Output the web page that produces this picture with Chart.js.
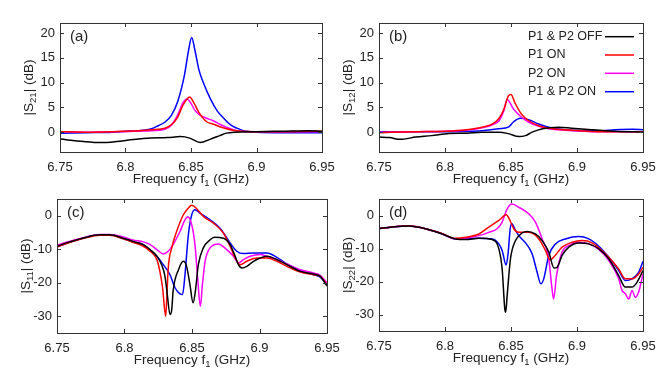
<!DOCTYPE html>
<html><head><meta charset="utf-8">
<script src="https://cdn.jsdelivr.net/npm/chart.js@4"></script>
<style>
html,body{margin:0;padding:0;background:#fff}
#wrap{position:relative;width:664px;height:374px;background:#fff}
canvas{position:absolute;left:0;top:0}
</style></head><body>
<div id="wrap">
<canvas id="ca" width="664" height="374"></canvas>
<canvas id="cb" width="664" height="374"></canvas>
<canvas id="cc" width="664" height="374"></canvas>
<canvas id="cd" width="664" height="374"></canvas>
</div>
<script>
// ---- data ----
const seriesNames = ["P1 & P2 OFF", "P1 ON", "P2 ON", "P1 & P2 ON"];
const xTicks = [6.75, 6.8, 6.85, 6.9, 6.95];
const xTickLabels = ["6.75", "6.8", "6.85", "6.9", "6.95"];
const yTicksTop = [0, 5, 10, 15, 20];
const yTickLabelsTop = ["0", "5", "10", "15", "20"];
const yTicksBottom = [-30, -20, -10, 0];
const yTickLabelsBottom = ["-30", "-20", "-10", "0"];

// (a) |S21|
const s21_off = [[6.75,-1.4],[6.768,-1.9],[6.781,-2.1],[6.793,-1.9],[6.806,-1.5],[6.819,-1.2],[6.832,-1.1],[6.842,-0.9],[6.849,-1.2],[6.857,-2.1],[6.865,-1.4],[6.872,-0.7],[6.877,-0.2],[6.883,0.0],[6.9,0.1],[6.92,0.2],[6.94,0.3],[6.95,0.2]];
const s21_p1 = [[6.75,0.1],[6.77,0.0],[6.79,0.1],[6.80,0.2],[6.81,0.3],[6.82,0.5],[6.83,0.8],[6.835,1.5],[6.84,3.1],[6.844,5.5],[6.849,7.1],[6.852,6.0],[6.856,4.0],[6.862,2.1],[6.867,1.6],[6.872,1.1],[6.877,0.7],[6.882,0.4],[6.888,0.2],[6.9,0.1],[6.92,0.1],[6.95,0.2]];
const s21_p2 = [[6.75,0.1],[6.77,0.0],[6.79,0.1],[6.80,0.1],[6.81,0.2],[6.82,0.3],[6.83,0.6],[6.835,1.4],[6.84,3.6],[6.844,6.0],[6.847,6.7],[6.85,5.8],[6.853,4.4],[6.857,3.4],[6.862,2.8],[6.867,2.3],[6.872,1.6],[6.877,1.0],[6.882,0.5],[6.888,0.2],[6.9,0.1],[6.92,0.1],[6.95,0.1]];
const s21_on = [[6.75,-0.2],[6.77,-0.1],[6.79,0.0],[6.80,0.2],[6.81,0.3],[6.82,0.7],[6.825,1.3],[6.83,2.0],[6.835,3.4],[6.84,6.3],[6.845,11.5],[6.848,16.3],[6.8505,19.1],[6.853,16.5],[6.856,12.6],[6.86,9.6],[6.865,6.6],[6.87,4.3],[6.875,2.8],[6.88,1.5],[6.885,0.8],[6.89,0.3],[6.9,0.0],[6.92,-0.1],[6.94,-0.1],[6.95,-0.1]];

// (b) |S12|
const s12_off = [[6.75,-1.0],[6.758,-1.1],[6.766,-1.45],[6.778,-1.0],[6.79,-0.7],[6.803,-0.25],[6.816,-0.2],[6.828,0.0],[6.841,0.0],[6.848,-0.3],[6.856,-0.9],[6.861,-0.7],[6.866,0.0],[6.874,0.7],[6.886,1.0],[6.896,0.8],[6.911,0.5],[6.929,0.2],[6.95,0.0]];
const s12_p1 = [[6.75,-0.1],[6.78,0.1],[6.80,0.2],[6.816,0.5],[6.828,1.0],[6.836,1.65],[6.841,2.8],[6.8446,4.6],[6.848,7.3],[6.85,7.6],[6.853,5.9],[6.858,3.6],[6.8635,2.3],[6.871,1.3],[6.8786,0.8],[6.891,0.5],[6.916,0.1],[6.95,0.1]];
const s12_p2 = [[6.75,0.0],[6.78,0.1],[6.80,0.2],[6.816,0.4],[6.828,0.9],[6.836,1.5],[6.841,2.3],[6.8446,4.3],[6.847,6.6],[6.852,4.6],[6.858,3.0],[6.8635,2.0],[6.871,1.2],[6.8786,0.7],[6.891,0.4],[6.916,0.1],[6.95,0.1]];
const s12_on = [[6.75,0.1],[6.78,0.1],[6.80,0.1],[6.82,0.2],[6.828,0.3],[6.841,0.7],[6.848,1.0],[6.852,2.1],[6.857,2.8],[6.8635,2.5],[6.871,1.65],[6.8786,1.0],[6.891,0.5],[6.916,0.3],[6.929,0.5],[6.942,0.6],[6.95,0.5]];

// (c) |S11|
const s11_off = [[6.75,-9.1],[6.757,-8.1],[6.769,-6.7],[6.782,-5.7],[6.789,-5.7],[6.799,-6.7],[6.806,-7.6],[6.814,-8.6],[6.819,-10.1],[6.824,-12.1],[6.8275,-14.6],[6.83,-18.1],[6.8317,-23.5],[6.8337,-29.5],[6.835,-28],[6.836,-22.5],[6.84,-16.1],[6.8436,-13.6],[6.846,-15.1],[6.8485,-20.6],[6.8508,-26],[6.8525,-22.5],[6.8547,-14.6],[6.8584,-9.6],[6.8634,-7.2],[6.8665,-6.4],[6.8733,-6.7],[6.8782,-8.6],[6.882,-12.1],[6.8844,-14.6],[6.8869,-15.6],[6.8906,-15.1],[6.8955,-13.6],[6.9005,-12.6],[6.9054,-12.1],[6.9129,-13.1],[6.9203,-14.6],[6.9302,-16.6],[6.94,-17.4],[6.945,-18.1],[6.95,-21]];
const s11_p1 = [[6.75,-9.3],[6.757,-8.3],[6.769,-6.8],[6.782,-5.8],[6.789,-5.8],[6.799,-6.9],[6.806,-7.9],[6.814,-9.1],[6.819,-10.6],[6.824,-13.1],[6.8262,-16.6],[6.8282,-21.5],[6.8305,-30],[6.8312,-25.5],[6.8324,-15.6],[6.835,-9.6],[6.8386,-4.7],[6.8436,0.3],[6.8473,2.3],[6.8498,3.1],[6.8535,2.1],[6.8584,-0.2],[6.8658,-2.2],[6.8733,-5.2],[6.8782,-9.1],[6.882,-12.6],[6.8856,-14.6],[6.8906,-13.6],[6.898,-12.6],[6.9054,-12.6],[6.9129,-13.6],[6.9203,-15.1],[6.9302,-16.8],[6.94,-17.6],[6.945,-18.1],[6.95,-20.6]];
const s11_p2 = [[6.75,-8.8],[6.757,-7.9],[6.769,-6.6],[6.782,-5.6],[6.789,-5.6],[6.799,-6.3],[6.806,-7.2],[6.814,-7.8],[6.819,-8.6],[6.824,-10.1],[6.8287,-11.4],[6.8324,-10.6],[6.836,-8.6],[6.8411,-4.7],[6.8448,-1.2],[6.8468,-0.3],[6.8498,-2.7],[6.8522,-8.6],[6.8542,-18.6],[6.8562,-27],[6.8577,-20.6],[6.8597,-13.6],[6.8634,-9.6],[6.8695,-8.4],[6.8757,-10.1],[6.8807,-12.1],[6.8844,-14.1],[6.8881,-13.1],[6.8931,-12.1],[6.9005,-11.6],[6.9054,-12.1],[6.9129,-13.1],[6.9203,-14.4],[6.9302,-16.1],[6.94,-17.1],[6.945,-17.8],[6.95,-20]];
const s11_on = [[6.75,-9.3],[6.757,-8.2],[6.769,-6.7],[6.782,-5.7],[6.789,-5.7],[6.799,-6.8],[6.806,-7.8],[6.814,-8.6],[6.819,-10.4],[6.824,-12.1],[6.8287,-14.6],[6.8337,-17.6],[6.8374,-21.5],[6.8411,-23.3],[6.843,-23.5],[6.8448,-17.6],[6.8473,-5.7],[6.8498,0.3],[6.8522,1.8],[6.8559,0.8],[6.8634,-1.2],[6.8708,-3.7],[6.8782,-8.1],[6.8832,-10.6],[6.8881,-11.3],[6.8955,-11.1],[6.9054,-11.1],[6.9129,-12.4],[6.9203,-14.4],[6.9302,-16.4],[6.94,-17.6],[6.945,-18.3],[6.95,-20.6]];

// (d) |S22|
const s22_off = [[6.75,-4.0],[6.76,-3.5],[6.7727,-3.2],[6.7853,-4.0],[6.7979,-5.6],[6.808,-7.1],[6.8156,-7.3],[6.8257,-6.9],[6.8358,-7.3],[6.8408,-10.1],[6.8433,-16.2],[6.8453,-28.3],[6.846,-29.3],[6.8471,-24.2],[6.8496,-13.1],[6.8534,-7.6],[6.8585,-5.3],[6.862,-4.85],[6.8685,-5.6],[6.8736,-7.6],[6.8786,-11.1],[6.8826,-15.9],[6.8849,-15.7],[6.8887,-12.1],[6.8938,-9.6],[6.9013,-8.3],[6.9089,-8.6],[6.9165,-10.1],[6.924,-13.1],[6.9316,-18.2],[6.9366,-21.7],[6.9417,-21.7],[6.9455,-20.2],[6.95,-16.7]];
const s22_p1 = [[6.75,-4.0],[6.76,-3.5],[6.7727,-3.2],[6.7853,-4.0],[6.7979,-5.5],[6.808,-6.9],[6.8156,-6.6],[6.8257,-5.6],[6.8332,-3.5],[6.8408,-1.5],[6.8465,0.2],[6.8484,-0.8],[6.8521,-4.0],[6.8559,-5.1],[6.8635,-5.1],[6.8711,-7.1],[6.8761,-10.6],[6.8796,-13.4],[6.8824,-12.6],[6.8887,-9.6],[6.8963,-8.1],[6.9038,-7.6],[6.9114,-8.3],[6.9215,-11.6],[6.9316,-16.2],[6.9366,-19.2],[6.9417,-19.2],[6.9467,-17.7],[6.95,-15.7]];
const s22_p2 = [[6.75,-4.0],[6.76,-3.5],[6.7727,-3.2],[6.7853,-4.0],[6.7979,-5.6],[6.808,-7.1],[6.8156,-6.9],[6.8257,-6.1],[6.8332,-5.1],[6.8395,-4.0],[6.8433,-2.0],[6.8471,2.0],[6.8506,3.5],[6.8559,2.5],[6.8635,0.5],[6.8685,-2.0],[6.8736,-7.1],[6.8786,-13.1],[6.8808,-21.2],[6.8823,-25.3],[6.8845,-18.2],[6.8887,-11.1],[6.8938,-9.1],[6.9013,-8.1],[6.9089,-8.6],[6.9165,-10.3],[6.924,-13.6],[6.9316,-19.2],[6.9341,-22.7],[6.9366,-23.7],[6.9392,-25.3],[6.9417,-22.7],[6.9442,-24.8],[6.9467,-23.2],[6.95,-17.7]];
const s22_on = [[6.75,-4.0],[6.76,-3.5],[6.7727,-3.2],[6.7853,-4.0],[6.7979,-5.6],[6.808,-7.1],[6.8156,-7.0],[6.8257,-6.9],[6.8358,-7.1],[6.8408,-8.6],[6.8433,-10.6],[6.8463,-15.0],[6.8478,-11.5],[6.8494,-4.0],[6.8506,-2.5],[6.8534,-4.5],[6.8559,-6.1],[6.861,-8.3],[6.866,-11.6],[6.8698,-17.2],[6.8726,-20.7],[6.8748,-19.2],[6.8786,-12.1],[6.8837,-8.6],[6.8912,-7.1],[6.9013,-6.4],[6.9089,-7.1],[6.9165,-9.3],[6.924,-12.6],[6.9316,-16.7],[6.9366,-19.7],[6.9417,-19.2],[6.9467,-17.2],[6.95,-13.9]];

// ---- style ----
const colors = ["#000000", "#ff0000", "#ff00ff", "#0000ff"];
const W = 664, H = 374, YW = 50, XH = 40;
const FONT = "'Liberation Sans', Arial, sans-serif";
const TXT = "#222";

Chart.defaults.font.family = FONT;
Chart.defaults.font.size = 13;
Chart.defaults.color = TXT;

function drawRich(ctx, parts, x, y) {
  let total = 0;
  parts.forEach(p => { ctx.font = p.s + "px " + FONT; p.w = ctx.measureText(p.t).width; total += p.w; });
  let cx = x - total / 2;
  ctx.textAlign = "left";
  ctx.textBaseline = "middle";
  parts.forEach(p => {
    ctx.font = p.s + "px " + FONT;
    ctx.fillText(p.t, cx, y + (p.dy || 0));
    cx += p.w;
  });
}

function decorPlugin(tag, sub, showLegend) {
  return {
    id: "decor" + tag,
    afterDatasetsDraw(chart) {
      const ctx = chart.ctx, a = chart.chartArea;
      const xs = chart.scales.x, ys = chart.scales.y;
      ctx.save();
      ctx.strokeStyle = "#333";
      ctx.lineWidth = 1;
      ctx.strokeRect(Math.round(a.left) + 0.5, Math.round(a.top) + 0.5, Math.round(a.right - a.left), Math.round(a.bottom - a.top));
      const TL = 4;
      ctx.beginPath();
      xs.ticks.forEach(t => {
        const px = Math.round(xs.getPixelForValue(t.value)) + 0.5;
        ctx.moveTo(px, a.bottom); ctx.lineTo(px, a.bottom - TL);
        ctx.moveTo(px, a.top); ctx.lineTo(px, a.top + TL);
      });
      ys.ticks.forEach(t => {
        const py = Math.round(ys.getPixelForValue(t.value)) + 0.5;
        ctx.moveTo(a.left, py); ctx.lineTo(a.left + TL, py);
        ctx.moveTo(a.right, py); ctx.lineTo(a.right - TL, py);
      });
      ctx.stroke();
      ctx.fillStyle = TXT;
      // panel tag
      ctx.font = "15px " + FONT;
      ctx.textAlign = "left"; ctx.textBaseline = "middle";
      ctx.fillText(tag, a.left + 10, a.top + 14);
      // x title
      drawRich(ctx, [{t: "Frequency f", s: 13.5}, {t: "1", s: 9.5, dy: 4}, {t: " (GHz)", s: 13.5}], (a.left + a.right) / 2, a.bottom + 27);
      // y title
      ctx.save();
      ctx.translate(a.left - 31, (a.top + a.bottom) / 2);
      ctx.rotate(-Math.PI / 2);
      drawRich(ctx, [{t: "|S", s: 13.5}, {t: sub, s: 9.5, dy: 4}, {t: "| (dB)", s: 13.5}], 0, 0);
      ctx.restore();
      // legend
      if (showLegend) {
        ctx.font = "12.5px " + FONT;
        ctx.textAlign = "left"; ctx.textBaseline = "middle";
        const rows = [36.7, 55, 73.3, 91.7];
        chart.data.datasets.forEach((ds, i) => {
          ctx.fillStyle = TXT;
          ctx.fillText(ds.label, 528, rows[i]);
          ctx.strokeStyle = ds.borderColor;
          ctx.lineWidth = 1.5;
          ctx.beginPath();
          ctx.moveTo(605, rows[i]); ctx.lineTo(634, rows[i]);
          ctx.stroke();
        });
      }
      ctx.restore();
    }
  };
}

function makeChart(id, cfg) {
  const r = cfg.rect;
  return new Chart(document.getElementById(id), {
    type: "line",
    data: {
      datasets: cfg.series.map((s, i) => ({
        label: seriesNames[i],
        data: s.map(p => ({x: p[0], y: p[1]})),
        borderColor: colors[i],
        borderWidth: 1.5,
        pointRadius: 0,
        fill: false,
        cubicInterpolationMode: "monotone"
      }))
    },
    options: {
      responsive: false,
      animation: false,
      devicePixelRatio: 1,
      layout: {padding: {left: r.l - YW, top: r.t, right: W - r.r, bottom: H - r.b - XH}},
      plugins: {legend: {display: false}, tooltip: {enabled: false}},
      scales: {
        x: {
          type: "linear", min: 6.75, max: 6.95,
          afterBuildTicks: s => { s.ticks = xTicks.map(v => ({value: v})); },
          afterFit: s => { s.height = XH; },
          grid: {display: false, drawTicks: false},
          border: {display: false},
          ticks: {padding: 8, autoSkip: false, maxRotation: 0, font: {size: 13}, color: TXT,
                  callback: (v, i) => xTickLabels[i]}
        },
        y: {
          type: "linear", min: cfg.ymin, max: cfg.ymax,
          afterBuildTicks: s => { s.ticks = cfg.yticks.map(v => ({value: v})); },
          afterFit: s => { s.width = YW; },
          grid: {display: false, drawTicks: false},
          border: {display: false},
          ticks: {padding: 5, autoSkip: false, font: {size: 13}, color: TXT,
                  callback: (v, i) => cfg.ylabels[i]}
        }
      }
    },
    plugins: [decorPlugin(cfg.tag, cfg.sub, cfg.legend)]
  });
}

makeChart("ca", {rect: {l: 60, t: 23, r: 322, b: 152}, ymin: -4, ymax: 22, yticks: yTicksTop, ylabels: yTickLabelsTop,
  series: [s21_off, s21_p1, s21_p2, s21_on], tag: "(a)", sub: "21", legend: false});
makeChart("cb", {rect: {l: 379, t: 23, r: 643, b: 152}, ymin: -4, ymax: 22, yticks: yTicksTop, ylabels: yTickLabelsTop,
  series: [s12_off, s12_p1, s12_p2, s12_on], tag: "(b)", sub: "12", legend: true});
makeChart("cc", {rect: {l: 57, t: 199, r: 327, b: 333}, ymin: -35, ymax: 5, yticks: yTicksBottom, ylabels: yTickLabelsBottom,
  series: [s11_off, s11_p1, s11_p2, s11_on], tag: "(c)", sub: "11", legend: false});
makeChart("cd", {rect: {l: 379, t: 199, r: 643, b: 331}, ymin: -35, ymax: 5, yticks: yTicksBottom, ylabels: yTickLabelsBottom,
  series: [s22_off, s22_p1, s22_p2, s22_on], tag: "(d)", sub: "22", legend: false});
</script>
</body></html>
